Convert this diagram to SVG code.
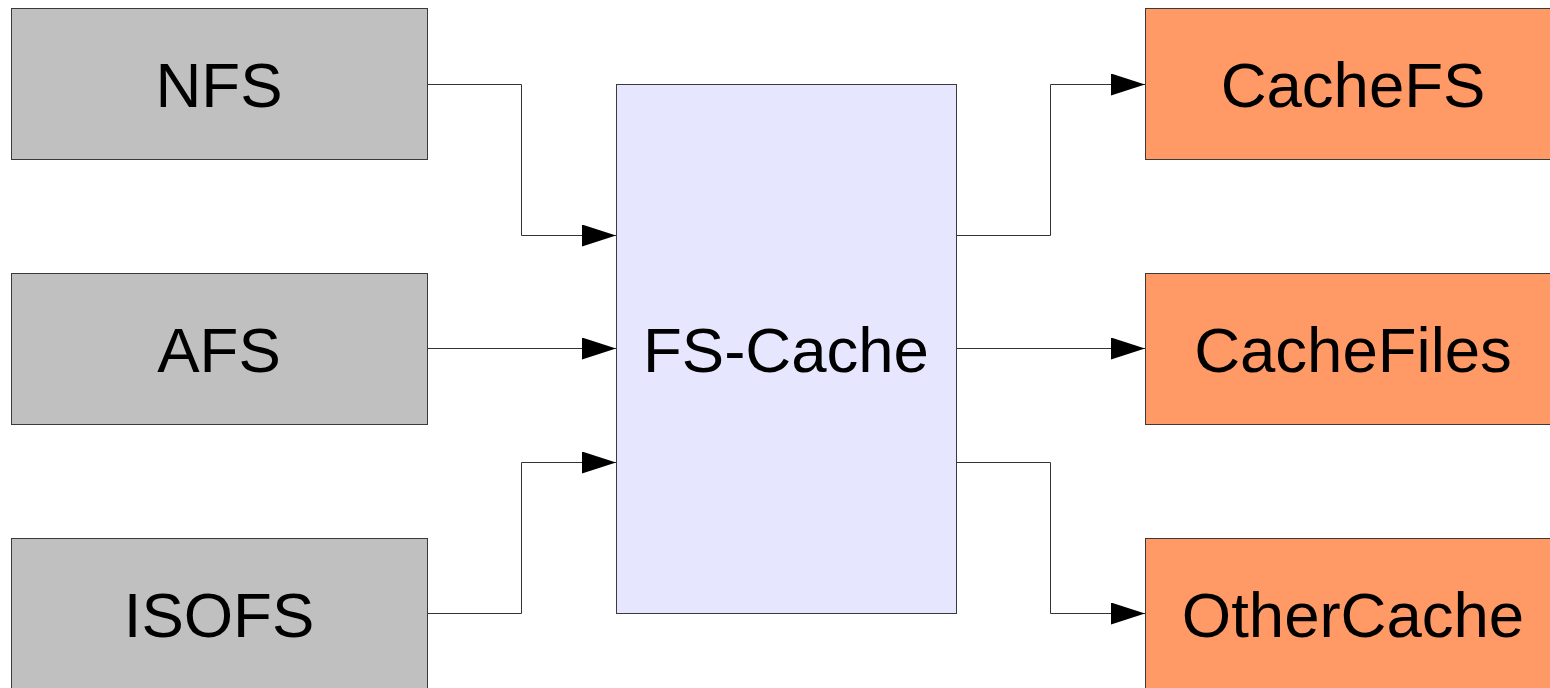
<svg xmlns="http://www.w3.org/2000/svg" width="1550" height="688" viewBox="0 0 1550 688">
<style>
.box{stroke:#3a3a3a;stroke-width:1}
.src{fill:#c0c0c0}
.mid{fill:#e6e6ff}
.dst{fill:#ff9966}
text{font-family:"Liberation Sans",Arial,sans-serif;font-size:63.5px;fill:#000;text-anchor:middle}
.conn{fill:none;stroke:#333;stroke-width:1;marker-end:url(#arr)}
</style>
<defs>
<marker id="arr" markerUnits="userSpaceOnUse" markerWidth="34" markerHeight="22" refX="34" refY="11" orient="auto">
<path d="M0,0 L34,11 L0,22 Z" fill="#000"/>
</marker>
</defs>
<rect width="1550" height="688" fill="#fff"/>
<g id="connectors">
<path class="conn" d="M427.5,84.5 H521.5 V235.5 H616"/>
<path class="conn" d="M427.5,348.5 H616"/>
<path class="conn" d="M427.5,613.5 H521.5 V462.5 H616"/>
<path class="conn" d="M956.5,235.5 H1050.5 V84.5 H1145"/>
<path class="conn" d="M956.5,348.5 H1145"/>
<path class="conn" d="M956.5,462.5 H1050.5 V613.5 H1145"/>
</g>
<g id="nfs"><rect class="box src" x="11.5" y="8.5" width="416" height="151"/><text x="219" y="107">NFS</text></g>
<g id="afs"><rect class="box src" x="11.5" y="273.5" width="416" height="151"/><text x="219" y="372">AFS</text></g>
<g id="isofs"><rect class="box src" x="11.5" y="538.5" width="416" height="151"/><text x="219" y="637">ISOFS</text></g>
<g id="fscache"><rect class="box mid" x="616.5" y="84.5" width="340" height="529"/><text x="786" y="372">FS-Cache</text></g>
<g id="cachefs"><rect class="box dst" x="1145.5" y="8.5" width="416" height="151"/><text x="1353" y="107">CacheFS</text></g>
<g id="cachefiles"><rect class="box dst" x="1145.5" y="273.5" width="416" height="151"/><text x="1353" y="372">CacheFiles</text></g>
<g id="othercache"><rect class="box dst" x="1145.5" y="538.5" width="416" height="151"/><text x="1353" y="637">OtherCache</text></g>
</svg>
